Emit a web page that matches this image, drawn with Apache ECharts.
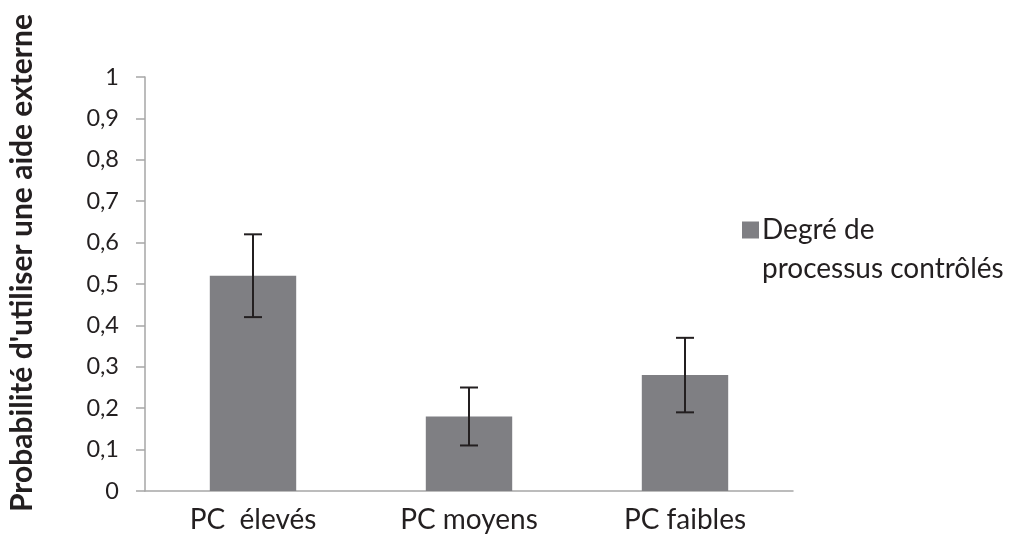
<!DOCTYPE html>
<html><head><meta charset="utf-8">
<script src="https://cdn.jsdelivr.net/npm/echarts@6/dist/echarts.min.js"></script>
<style>html,body{margin:0;padding:0;background:#fff}#c{width:1020px;height:550px}</style>
</head><body><div id="c"></div>
<script>
var categories = ['PC  élevés', 'PC moyens', 'PC faibles'];
var values = [0.52, 0.18, 0.28];
var errLow = [0.42, 0.11, 0.19];
var errHigh = [0.62, 0.25, 0.37];
var seriesName = 'Degré de processus contrôlés';
var legendLines = ['Degré de', 'processus contrôlés'];
var yTitle = "Probabilité d'utiliser une aide externe";
var yTicks = [0, 0.1, 0.2, 0.3, 0.4, 0.5, 0.6, 0.7, 0.8, 0.9, 1];

var chart = echarts.init(document.getElementById('c'));
var font = 'Lato, "Open Sans", sans-serif';
chart.setOption({
  animation: false,
  backgroundColor: '#fff',
  grid: {left: 145, right: 227, top: 77, bottom: 59, containLabel: false, outerBoundsMode: 'none'},
  legend: {
    data: [seriesName], left: 737, top: 211, orient: 'vertical',
    itemWidth: 17, itemHeight: 17, icon: 'rect', itemGap: 0,
    formatter: function () { return legendLines[0]; },
    textStyle: {fontFamily: font, fontSize: 28, color: '#231f20', padding: [0, 0, 0, -2]}
  },
  graphic: [
    {type: 'text', left: 762, top: 255,
     style: {text: legendLines[1], fontFamily: font, fontSize: 28, fill: '#231f20'}},
    {type: 'text', x: 22, y: 263, rotation: Math.PI / 2,
     style: {text: yTitle, fontFamily: font, fontSize: 30, fontWeight: 'bold', fill: '#231f20',
             align: 'center', verticalAlign: 'middle'}}
  ],
  xAxis: {
    type: 'category', data: categories,
    axisLine: {lineStyle: {color: '#a6a6a6', width: 1.5}},
    axisTick: {length: 8, lineStyle: {color: '#a6a6a6', width: 1.5}},
    axisLabel: {fontFamily: font, fontSize: 28, color: '#231f20', margin: 15}
  },
  yAxis: {
    type: 'value', min: 0, max: 1, interval: 0.1,
    splitLine: {show: false},
    axisLine: {show: true, lineStyle: {color: '#a6a6a6', width: 1.5}},
    axisTick: {show: true, length: 9, lineStyle: {color: '#a6a6a6', width: 1.5}},
    axisLabel: {fontFamily: font, fontSize: 23.5, color: '#231f20', margin: 26,
      formatter: function (v) {
        var t = yTicks.find(function (x) { return Math.abs(x - v) < 1e-9; });
        return t === undefined ? '' : String(t).replace('.', ',');
      }}
  },
  series: [
    {name: seriesName, type: 'bar', data: values, barWidth: '40%',
     itemStyle: {color: '#7f7f83'}},
    {type: 'custom', silent: true,
     data: categories.map(function (c, i) { return [i, errLow[i], errHigh[i]]; }),
     renderItem: function (params, api) {
       var lo = api.coord([api.value(0), api.value(1)]);
       var hi = api.coord([api.value(0), api.value(2)]);
       var hw = 9;
       var st = {stroke: '#231f20', lineWidth: 2};
       return {type: 'group', children: [
         {type: 'line', shape: {x1: hi[0], y1: hi[1], x2: lo[0], y2: lo[1]}, style: st},
         {type: 'line', shape: {x1: hi[0] - hw, y1: hi[1], x2: hi[0] + hw, y2: hi[1]}, style: st},
         {type: 'line', shape: {x1: lo[0] - hw, y1: lo[1], x2: lo[0] + hw, y2: lo[1]}, style: st}
       ]};
     }, z: 5}
  ]
});
</script></body></html>
